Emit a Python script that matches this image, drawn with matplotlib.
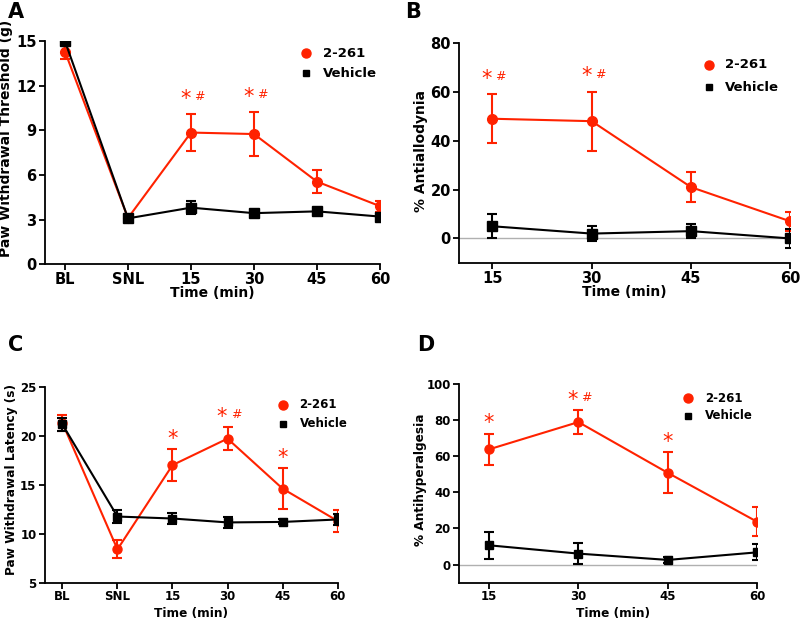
import numpy as np
import matplotlib
matplotlib.use('Agg')
import matplotlib.pyplot as plt

plt.rcParams['font.family'] = 'DejaVu Sans'
plt.rcParams['font.weight'] = 'bold'
plt.rcParams['axes.labelweight'] = 'bold'

RED = '#ff2200'
BLK = 'black'

# -----------------------------------------------------------------------------------------
# data

cat_labels = ['BL', 'SNL', '15', '30', '45', '60']
time_labels = [15, 30, 45, 60]

a_drug = [14.3, 3.1, 8.85, 8.75, 5.55, 3.9]
a_drug_err = [0.5, 0.15, 1.22, 1.45, 0.75, 0.37]
a_veh = [15.0, 3.08, 3.8, 3.43, 3.55, 3.2]
a_veh_err = [0.05, 0.2, 0.42, 0.15, 0.12, 0.2]
a_marks = ['', '', '* #', '* #', '', '']

b_drug = [49, 48, 21, 7]
b_drug_err = [10, 12, 6, 4]
b_veh = [5, 2, 3, 0]
b_veh_err = [5, 3, 3, 4]
b_marks = ['* #', '* #', '', '']

c_drug = [21.3, 8.4, 17.0, 19.7, 14.6, 11.3]
c_drug_err = [0.8, 0.93, 1.65, 1.2, 2.1, 1.1]
c_veh = [21.15, 11.75, 11.55, 11.15, 11.2, 11.45]
c_veh_err = [0.7, 0.65, 0.55, 0.6, 0.25, 0.6]
c_marks = ['', '', '*', '* #', '*', '']

d_drug = [63.8, 78.9, 50.8, 23.7]
d_drug_err = [8.7, 6.6, 11.3, 8.1]
d_veh = [10.7, 6.1, 2.6, 6.8]
d_veh_err = [7.5, 6.0, 1.8, 4.4]
d_marks = ['*', '* #', '*', '']

# -----------------------------------------------------------------------------------------


def style_axes(ax, fs):
    for s in ['top', 'right']:
        ax.spines[s].set_visible(False)
    for s in ['left', 'bottom']:
        ax.spines[s].set_linewidth(1.3)
    ax.tick_params(direction='out', length=4, width=1.3, labelsize=fs, pad=2)
    ax.tick_params(axis='x', pad=1.5)


def draw(ax, x, drug, drug_err, veh, veh_err, ms):
    ax.errorbar(x, drug, yerr=drug_err, color=RED, marker='o', ms=ms, lw=1.5,
                capsize=3.5, capthick=1.5, elinewidth=1.5, zorder=3)
    ax.errorbar(x, veh, yerr=veh_err, color=BLK, marker='s', ms=ms - 0.5, lw=1.5,
                capsize=3.5, capthick=1.5, elinewidth=1.5, zorder=4)


def legend(ax, xf, y1, y2, fs):
    ax.plot([xf], [y1], 'o', color=RED, ms=6.5, transform=ax.transAxes, clip_on=False)
    ax.plot([xf], [y2], 's', color=BLK, ms=5, transform=ax.transAxes, clip_on=False)
    for y, lab in [(y1, '2-261'), (y2, 'Vehicle')]:
        ax.annotate(lab, xy=(xf, y), xycoords='axes fraction', xytext=(12, 0),
                    textcoords='offset points', va='center', ha='left', fontsize=fs)


def marks(ax, x, drug, drug_err, labels, dy):
    for xi, yi, ei, lab in zip(x, drug, drug_err, labels):
        if lab == '':
            continue
        y = yi + ei + dy
        if '#' in lab:
            ax.annotate('*', xy=(xi, y), xytext=(-4, 0), textcoords='offset points',
                        color=RED, fontsize=15, fontweight='normal', ha='center', va='center')
            ax.annotate('#', xy=(xi, y), xytext=(6, 1.5), textcoords='offset points',
                        color=RED, fontsize=9, fontweight='normal', ha='center', va='center')
        else:
            ax.annotate('*', xy=(xi, y), color=RED, fontsize=15, fontweight='normal',
                        ha='center', va='center')


def labels(ax, xlab, ylab, fs, xl, yl):
    ax.set_xlabel(xlab, fontsize=fs)
    ax.set_ylabel(ylab, fontsize=fs)
    ax.xaxis.set_label_coords(*xl)
    ax.yaxis.set_label_coords(*yl)


fig = plt.figure(figsize=(8, 6.23), dpi=100)

# A
ax = fig.add_axes([0.056, 0.576, 0.419, 0.358])
x = np.arange(len(cat_labels))
draw(ax, x, a_drug, a_drug_err, a_veh, a_veh_err, 7)
marks(ax, x, a_drug, a_drug_err, a_marks, 1.05)
legend(ax, 0.779, 0.946, 0.857, 9.5)
ax.set_xlim(-0.32, 5)
ax.set_ylim(0, 15)
ax.set_xticks(x)
ax.set_xticklabels(cat_labels)
ax.set_yticks([0, 3, 6, 9, 12, 15])
labels(ax, 'Time (min)', 'Paw Withdrawal Threshold (g)', 10, (0.5, -0.1), (-0.0955, 0.565))
style_axes(ax, 10.5)

# B
ax = fig.add_axes([0.574, 0.578, 0.414, 0.353])
ax.axhline(0, color='#b0b0b0', lw=1, zorder=1)
draw(ax, time_labels, b_drug, b_drug_err, b_veh, b_veh_err, 7)
marks(ax, time_labels, b_drug, b_drug_err, b_marks, 6.4)
legend(ax, 0.753, 0.9, 0.799, 9.5)
ax.set_xlim(10, 60)
ax.set_ylim(-10, 80)
ax.set_xticks(time_labels)
ax.set_yticks([0, 20, 40, 60, 80])
labels(ax, 'Time (min)', '% Antiallodynia', 10, (0.5, -0.102), (-0.094, 0.51))
style_axes(ax, 10.5)

# C
ax = fig.add_axes([0.056, 0.0647, 0.366, 0.3146])
draw(ax, x, c_drug, c_drug_err, c_veh, c_veh_err, 6.5)
marks(ax, x, c_drug, c_drug_err, c_marks, 1.0)
legend(ax, 0.813, 0.907, 0.81, 8.5)
ax.set_xlim(-0.32, 5)
ax.set_ylim(5, 25)
ax.set_xticks(x)
ax.set_xticklabels(cat_labels)
ax.set_yticks([5, 10, 15, 20, 25])
labels(ax, 'Time (min)', 'Paw Withdrawal Latency (s)', 8.7, (0.498, -0.125), (-0.092, 0.524))
style_axes(ax, 8.5)

# D
ax = fig.add_axes([0.574, 0.0647, 0.3725, 0.319])
ax.axhline(0, color='#b0b0b0', lw=1, zorder=1)
draw(ax, time_labels, d_drug, d_drug_err, d_veh, d_veh_err, 6.5)
marks(ax, time_labels, d_drug, d_drug_err, d_marks, 5.8)
legend(ax, 0.769, 0.928, 0.839, 8.5)
ax.set_xlim(10, 60)
ax.set_ylim(-10, 100)
ax.set_xticks(time_labels)
ax.set_yticks([0, 20, 40, 60, 80, 100])
labels(ax, 'Time (min)', '% Antihyperalgesia', 8.7, (0.515, -0.123), (-0.107, 0.52))
style_axes(ax, 8.5)

for lab, px, py in [('A', 0.01, 0.98), ('B', 0.506, 0.98), ('C', 0.01, 0.446), ('D', 0.521, 0.446)]:
    fig.text(px, py, lab, fontsize=15, fontweight='bold', va='center', ha='left')

fig.savefig('out.png', dpi=100)
